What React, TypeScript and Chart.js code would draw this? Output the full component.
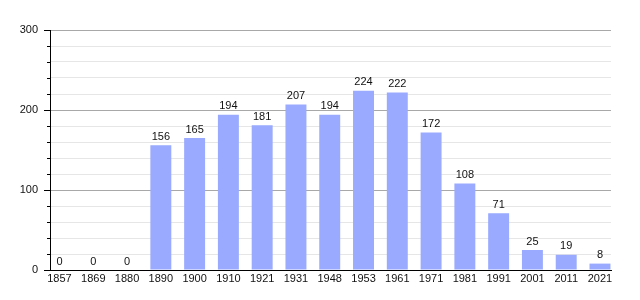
import React, { useEffect, useRef } from "react";
import { Chart, registerables } from "chart.js";

Chart.register(...registerables);

const years = ["1857", "1869", "1880", "1890", "1900", "1910", "1921", "1931", "1948", "1953", "1961", "1971", "1981", "1991", "2001", "2011", "2021"];
const population = [0, 0, 0, 156, 165, 194, 181, 207, 194, 224, 222, 172, 108, 71, 25, 19, 8];
const yMajorTicks = [0, 100, 200, 300];

const FONT = "'Liberation Sans', Arial, sans-serif";

const minorTicksPlugin = {
  id: "minorTicks",
  afterDraw(chart: any) {
    const y = chart.scales.y;
    const ctx = chart.ctx;
    ctx.save();
    ctx.strokeStyle = "#000";
    ctx.lineWidth = 1;
    for (let v = 0; v <= 300; v += 20) {
      if (yMajorTicks.includes(v)) continue;
      const py = Math.round(y.getPixelForValue(v)) + 0.5;
      ctx.beginPath();
      ctx.moveTo(chart.chartArea.left - 3, py);
      ctx.lineTo(chart.chartArea.left, py);
      ctx.stroke();
    }
    ctx.restore();
  },
};

const valueLabelsPlugin = {
  id: "valueLabels",
  afterDatasetsDraw(chart: any) {
    const ctx = chart.ctx;
    const meta = chart.getDatasetMeta(0);
    ctx.save();
    ctx.font = "11px " + FONT;
    ctx.fillStyle = "#111";
    ctx.textAlign = "center";
    ctx.textBaseline = "bottom";
    meta.data.forEach((bar: any, i: number) => {
      ctx.fillText(String(population[i]), bar.x, bar.y - 3);
    });
    ctx.restore();
  },
};

export default function App() {
  const ref = useRef<HTMLCanvasElement>(null);
  useEffect(() => {
    if (!ref.current) return;
    Chart.defaults.font.family = FONT;
    Chart.defaults.font.size = 11;
    Chart.defaults.color = "#111";
    const chart = new Chart(ref.current, {
      type: "bar",
      data: {
        datasets: [
          {
            data: population.map((v, i) => ({ x: i, y: v })),
            backgroundColor: "rgb(153,170,255)",
            borderWidth: 0,
            categoryPercentage: 1,
            barPercentage: 0.62,
          },
        ],
      },
      options: {
        animation: false,
        responsive: false,
        maintainAspectRatio: false,
        layout: { padding: { left: 0, right: 29, top: 30, bottom: 0 } },
        plugins: { legend: { display: false }, tooltip: { enabled: false } },
        scales: {
          x: {
            type: "linear",
            offset: false,
            min: -0.281,
            max: 16.326,
            grid: { display: false, offset: false, drawTicks: false },
            border: { display: true, color: "#000", width: 1 },
            ticks: {
              stepSize: 1,
              includeBounds: false,
              autoSkip: false,
              maxRotation: 0,
              padding: 2,
              callback: (v: any) => (Number.isInteger(v) ? years[v] : ""),
            },
            afterFit: (s: any) => {
              s.height = 30;
            },
          },
          y: {
            min: 0,
            max: 300,
            border: { display: true, color: "#000", width: 1 },
            grid: {
              color: (c: any) => (c.tick && c.tick.value % 100 === 0 ? "#a8a8a8" : "#e6e6e6"),
              tickColor: (c: any) => (c.tick && c.tick.value % 100 === 0 ? "#000" : "rgba(0,0,0,0)"),
              tickLength: 6,
            },
            ticks: {
              stepSize: 20,
              padding: 6,
              autoSkip: false,
              callback: (v: any) => (yMajorTicks.includes(v) ? String(v) : ""),
            },
            afterFit: (s: any) => {
              s.width = 50;
            },
          },
        },
      },
      plugins: [minorTicksPlugin, valueLabelsPlugin],
    } as any);
    return () => chart.destroy();
  }, []);
  return (
    <div style={{ position: "fixed", left: 0, top: 0, width: 640, height: 300, background: "#fff" }}>
      <canvas ref={ref} width={640} height={300} style={{ width: 640, height: 300 }} />
    </div>
  );
}
